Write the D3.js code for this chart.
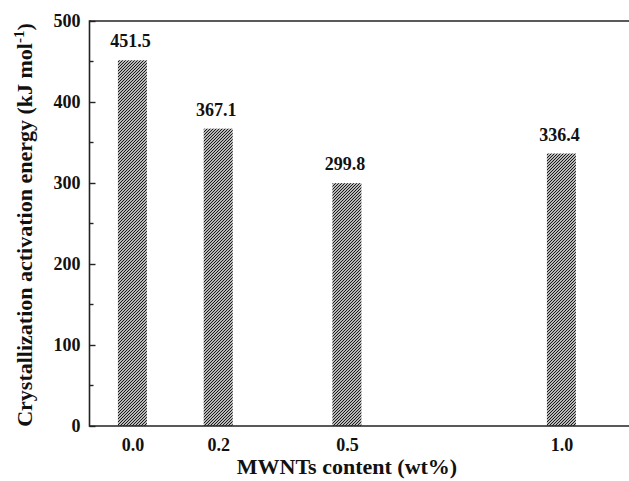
<!DOCTYPE html>
<html>
<head>
<meta charset="utf-8">
<script src="https://cdn.jsdelivr.net/npm/d3@7"></script>
<style>
  html, body { margin: 0; padding: 0; background: #fff; }
  svg { display: block; }
  text { font-family: "Liberation Serif", "Times New Roman", serif; font-weight: bold; fill: #111; }
</style>
</head>
<body>
<script>
// MWNT loading (wt%) and the crystallization activation energy measured at each
const contents = [0.0, 0.2, 0.5, 1.0];
const energies = [451.5, 367.1, 299.8, 336.4];
const energyLabels = ["451.5", "367.1", "299.8", "336.4"];
const xTicks = [0.0, 0.2, 0.5, 1.0];
const yTicks = [0, 100, 200, 300, 400, 500];
const yMinorTicks = [50, 150, 250, 350, 450];

const W = 629, H = 481;
const svg = d3.select("body").append("svg").attr("width", W).attr("height", H);

// fine "////" hatching used to fill the bars
const defs = svg.append("defs");
const pat = defs.append("pattern")
  .attr("id", "hatch")
  .attr("patternUnits", "userSpaceOnUse")
  .attr("width", 3).attr("height", 3);
pat.append("rect").attr("width", 3).attr("height", 3).attr("fill", "#fff");
pat.append("path")
  .attr("d", "M-1,1 L1,-1 M0,3 L3,0 M2,4 L4,2")
  .attr("stroke", "#111")
  .attr("stroke-width", 1.15);

const plotLeft = 89.5, plotBottom = 426, plotTop = 21;
const x = d3.scaleLinear().domain([-0.1, 1.2]).range([plotLeft, plotLeft + 1.3 * 429]);
const y = d3.scaleLinear().domain([0, 500]).range([plotBottom, plotTop]);
const barW = 29;

// bars
svg.append("g").selectAll("rect")
  .data(contents)
  .join("rect")
  .attr("x", (d) => x(d) - barW / 2)
  .attr("y", (d, i) => y(energies[i]))
  .attr("width", barW)
  .attr("height", (d, i) => y(0) - y(energies[i]))
  .attr("fill", "url(#hatch)");

// value labels above the bars
svg.append("g").selectAll("text")
  .data(contents)
  .join("text")
  .attr("x", (d) => x(d) - 2)
  .attr("y", (d, i) => y(energies[i]) - 13)
  .attr("text-anchor", "middle")
  .attr("font-size", 18)
  .text((d, i) => energyLabels[i]);

// frame
const frame = svg.append("g").attr("stroke", "#222").attr("stroke-width", 1.6).attr("fill", "none");
frame.append("line").attr("x1", x(-0.1)).attr("x2", x(1.2)).attr("y1", y(0)).attr("y2", y(0));
frame.append("line").attr("x1", x(-0.1)).attr("x2", x(1.2)).attr("y1", y(500)).attr("y2", y(500));
frame.append("line").attr("x1", x(-0.1)).attr("x2", x(-0.1)).attr("y1", y(0) + 0.8).attr("y2", y(500) - 0.8);

// y axis: labelled major ticks pointing inward
const yAxis = svg.append("g")
  .attr("transform", `translate(${plotLeft},0)`)
  .call(d3.axisLeft(y).tickValues(yTicks).tickSize(-6).tickPadding(9).tickFormat(d3.format("d")));
yAxis.select(".domain").remove();
yAxis.selectAll(".tick line").attr("stroke", "#222").attr("stroke-width", 1.4);
yAxis.selectAll(".tick text").attr("font-size", 18).attr("font-family", null).attr("fill", null);

// minor ticks
svg.append("g").selectAll("line")
  .data(yMinorTicks)
  .join("line")
  .attr("x1", plotLeft).attr("x2", plotLeft + 4)
  .attr("y1", (d) => y(d)).attr("y2", (d) => y(d))
  .attr("stroke", "#222").attr("stroke-width", 1.4);

// x axis: labels only
const xAxis = svg.append("g")
  .attr("transform", `translate(0,${plotBottom})`)
  .call(d3.axisBottom(x).tickValues(xTicks).tickSize(0).tickPadding(12).tickFormat(d3.format(".1f")));
xAxis.select(".domain").remove();
xAxis.selectAll(".tick text").attr("font-size", 18).attr("font-family", null).attr("fill", null);

// axis titles
svg.append("text")
  .attr("x", 347).attr("y", 474)
  .attr("text-anchor", "middle")
  .attr("font-size", 22)
  .text("MWNTs content (wt%)");

const yTitle = svg.append("text")
  .attr("transform", "translate(32,225) rotate(-90)")
  .attr("text-anchor", "middle")
  .attr("font-size", 22);
yTitle.append("tspan").text("Crystallization activation energy  (kJ mol");
yTitle.append("tspan").attr("font-size", 15).attr("dy", -8).text("-1");
yTitle.append("tspan").attr("dy", 8).text(")");
</script>
</body>
</html>
